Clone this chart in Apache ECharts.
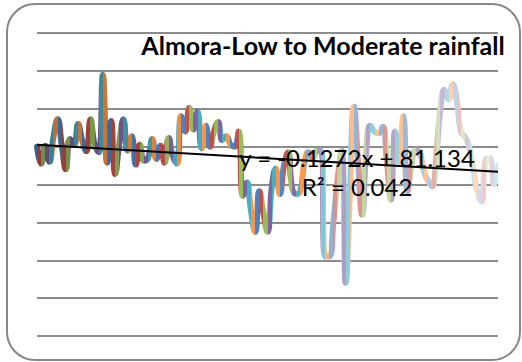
<!DOCTYPE html>
<html>
<head>
<meta charset="utf-8">
<title>Almora-Low to Moderate rainfall</title>
<script src="https://cdn.jsdelivr.net/npm/echarts@6.0.0/dist/echarts.min.js"></script>
<style>
  html, body { margin: 0; padding: 0; background: #ffffff; }
  #chart { width: 522px; height: 362px; }
</style>
</head>
<body>
<div id="chart"></div>
<script>
// Rainfall series (one value per year of record)
const rainfall = [
  80, 71, 80.5, 72, 85, 94.5, 81, 68, 84, 81,
  92, 83, 77.5, 94.5, 81, 77, 118, 71.5, 93.5, 65.5,
  82, 94.5, 78, 85.5, 70.5, 81, 72.5, 74, 84, 73.5,
  80.5, 71.5, 84.5, 75, 71, 96, 88, 100.5, 89, 98.5,
  79, 91, 80, 88, 93, 83.5, 85.5, 81, 80, 88,
  54, 61, 46, 35, 56.5, 45, 35, 58, 68.5, 55,
  70, 77, 58, 55, 57, 72, 77, 74, 78, 78,
  22, 22, 40, 62, 78, 8, 55, 101, 72, 44,
  78, 91, 88, 87, 90.5, 72, 52, 88, 72, 96,
  56.5, 70, 78, 77, 67, 62, 59, 75, 100, 110,
  105, 113, 104, 88, 85, 80, 68, 56, 51, 73,
  74, 60, 70
];
const categories = rainfall.map((_, i) => String(i + 1));

// Value axis ticks
const yTicks = [-20, 0, 20, 40, 60, 80, 100, 120, 140];

// Linear trend fitted over the series (x = 1..n)
const trendSlope = -0.1272;
const trendIntercept = 81.134;
const rSquared = 0.042;

// Office accent palette, varied by point from darker to lighter tones
const accents = ['#4F81BD', '#C0504D', '#9BBB59', '#8064A2', '#4BACC6', '#F79646'];
const toneByRound = [-0.25, -0.22, -0.2, -0.17, -0.12, -0.06, 0, 0, 0, 0,
                     0.05, 0.3, 0.38, 0.4, 0.42, 0.45, 0.55, 0.65, 0.72];

function tone(hex, t) {
  const n = parseInt(hex.slice(1), 16);
  let rgb = [(n >> 16) & 255, (n >> 8) & 255, n & 255];
  rgb = rgb.map(c => t < 0 ? c * (1 + t) : c + (255 - c) * t);
  return 'rgb(' + rgb.map(c => Math.round(c)).join(',') + ')';
}
function pointColor(i) {
  const t = toneByRound[Math.min(toneByRound.length - 1, Math.floor(i / 6))];
  return tone(accents[i % 6], t);
}

// each segment takes the colour of the point it ends on
const pieces = [{ lte: 0, color: pointColor(0) }];
for (let i = 1; i < rainfall.length; i++) {
  pieces.push({ gt: i - 1, lte: i, color: pointColor(i) });
}

const n = rainfall.length;
const trendData = [
  [categories[0], trendIntercept + trendSlope * 1],
  [categories[n - 1], trendIntercept + trendSlope * n]
];

const fmt = v => (v < 0 ? '-' : '') + Math.abs(v);
const equationText = 'y = ' + fmt(trendSlope) + 'x + ' + trendIntercept;
const r2Text = 'R\u00B2 = ' + rSquared;

const chart = echarts.init(document.getElementById('chart'), null, { renderer: 'svg' });
chart.setOption({
  animation: false,
  backgroundColor: '#ffffff',
  grid: { left: 37, right: 24, top: 33, bottom: 26, containLabel: false },
  xAxis: {
    type: 'category',
    data: categories,
    boundaryGap: false,
    axisLine: { show: false },
    axisTick: { show: false },
    axisLabel: { show: false },
    splitLine: { show: false }
  },
  yAxis: {
    type: 'value',
    min: yTicks[0],
    max: yTicks[yTicks.length - 1],
    interval: yTicks[1] - yTicks[0],
    axisLine: { show: false },
    axisTick: { show: false },
    axisLabel: { show: false },
    splitLine: { show: true, lineStyle: { color: '#8c8c8c', width: 2 } }
  },
  visualMap: {
    type: 'piecewise',
    show: false,
    dimension: 0,
    seriesIndex: 0,
    pieces: pieces
  },
  series: [
    {
      name: 'Rainfall',
      type: 'line',
      data: rainfall,
      smooth: 0.5,
      showSymbol: false,
      symbol: 'none',
      lineStyle: { width: 6, cap: 'round', join: 'round' },
      z: 2
    },
    {
      name: 'Linear trend',
      type: 'line',
      data: trendData,
      showSymbol: false,
      symbol: 'none',
      lineStyle: { color: '#000000', width: 2 },
      z: 3
    }
  ],
  graphic: [
    {
      type: 'rect',
      shape: { x: 7, y: 4, width: 513, height: 356, r: 28 },
      style: { fill: 'none', stroke: '#878787', lineWidth: 2 },
      silent: true,
      z: 1
    },
    {
      type: 'text',
      x: 323, y: 45,
      style: { text: 'Almora-Low to Moderate rainfall', font: 'bold 25px Lato', fill: '#000000',
               align: 'center', verticalAlign: 'middle' },
      z: 100
    },
    {
      type: 'text',
      x: 357, y: 157,
      style: { text: equationText, font: '24px Lato', fill: '#000000',
               align: 'center', verticalAlign: 'middle' },
      z: 100
    },
    {
      type: 'text',
      x: 357, y: 186,
      style: { text: r2Text, font: '24px Lato', fill: '#000000',
               align: 'center', verticalAlign: 'middle' },
      z: 100
    }
  ]
});
</script>
</body>
</html>
